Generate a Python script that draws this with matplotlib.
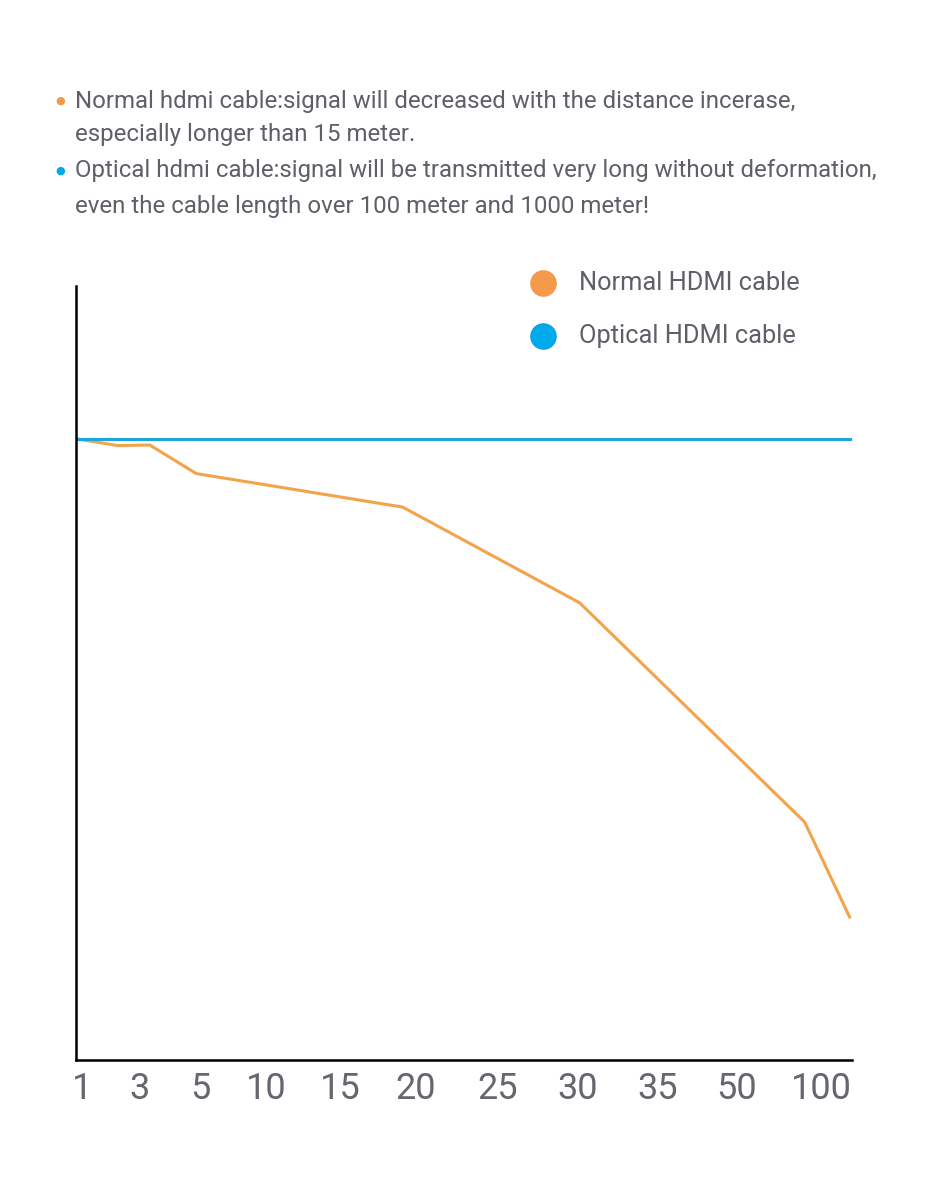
"""Normal vs optical HDMI cable signal over distance."""

import matplotlib
matplotlib.use("Agg")
import matplotlib.pyplot as plt

# --- data ------------------------------------------------------------------------

tick_labels = ["1", "3", "5", "10", "15", "20", "25", "30", "35", "50", "100"]
tick_pos    = [0.08, 0.82, 1.60, 2.45, 3.40, 4.38, 5.43, 6.46, 7.49, 8.51, 9.61]

normal_x = [0.0, 0.54, 0.95, 1.55, 4.21, 6.49, 9.39, 9.97]
normal_y = [100, 98.9, 99.0, 94.4, 89.0, 73.6, 38.3, 23.0]

optical_x = [0.0, 9.97]
optical_y = [100, 100]

header = [
    "Normal hdmi cable:signal will decreased with the distance incerase,",
    "especially longer than 15 meter.",
    "Optical hdmi cable:signal will be transmitted very long without deformation,",
    "even the cable length over 100 meter and 1000 meter!",
]
series_names = ["Normal HDMI cable", "Optical HDMI cable"]

ORANGE = "#F3A34A"
BLUE   = "#1BA6DE"
DOT_OR = "#F39A4B"
DOT_BL = "#00A8EC"
GREY   = "#5E5F67"

plt.rcParams["font.family"] = ["Roboto", "DejaVu Sans"]

# --- figure ------------------------------------------------------------------------

fig = plt.figure(figsize=(9.3, 12), dpi=100)
ax = fig.add_axes([0.0817, 0.1167, 0.8344, 0.645])

ax.plot(normal_x, normal_y, color=ORANGE, linewidth=2.2, solid_joinstyle="miter")
ax.plot(optical_x, optical_y, color=BLUE, linewidth=2.2)

ax.set_xlim(0, 10)
ax.set_ylim(0, 124.6)
ax.set_xticks(tick_pos)
ax.set_xticklabels(tick_labels, fontsize=26, color="#66676E")
ax.tick_params(axis="x", length=0, pad=8)
ax.set_yticks([])

for side in ["top", "right"]:
    ax.spines[side].set_visible(False)
for side in ["left", "bottom"]:
    ax.spines[side].set_linewidth(1.8)
    ax.spines[side].set_color("black")

# legend drawn by hand: big dots and grey labels
for yy, name, col in zip([1.004, 0.935], series_names, [DOT_OR, DOT_BL]):
    ax.scatter([0.602], [yy], s=330, color=col, transform=ax.transAxes, clip_on=False)
    ax.text(0.648, yy, name, transform=ax.transAxes, fontsize=18.3, color=GREY,
            va="center", ha="left")

# header text with coloured bullets
line_y = [0.9158, 0.8883, 0.8575, 0.8283]
for yy, txt in zip(line_y, header):
    fig.text(0.0806, yy, txt, fontsize=17.3, color=GREY, va="center", ha="left")
fig.text(0.0645, line_y[0], "\u25CF", fontsize=8, color=DOT_OR, va="center", ha="center")
fig.text(0.0645, line_y[2], "\u25CF", fontsize=8, color=DOT_BL, va="center", ha="center")

fig.savefig("out.png", dpi=100)
